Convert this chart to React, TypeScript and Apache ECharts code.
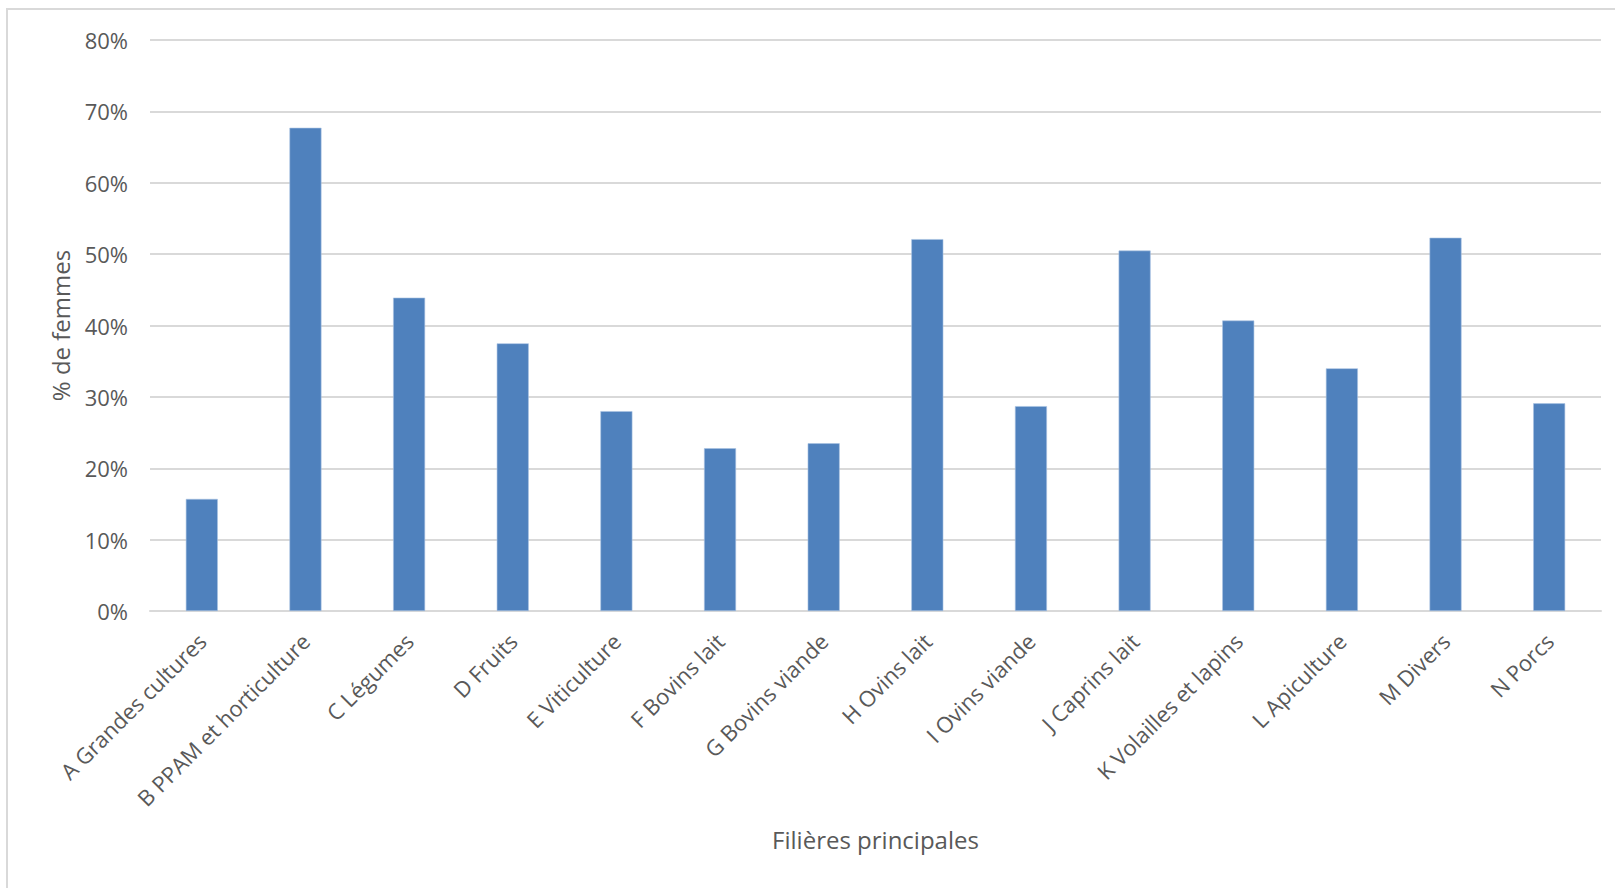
import React, { useEffect, useRef } from "react";
import * as echarts from "echarts";

const categories: string[] = [
  "A Grandes cultures",
  "B PPAM et horticulture",
  "C Légumes",
  "D Fruits",
  "E Viticulture",
  "F Bovins lait",
  "G Bovins viande",
  "H Ovins lait",
  "I Ovins viande",
  "J Caprins lait",
  "K Volailles et lapins",
  "L Apiculture",
  "M Divers",
  "N Porcs",
];

const pctFemmes: number[] = [15.7, 67.7, 43.9, 37.5, 28.0, 22.8, 23.5, 52.1, 28.7, 50.5, 40.7, 34.0, 52.3, 29.1];

const yAxisTitle = "% de femmes";
const xAxisTitle = "Filières principales";

const FONT = "'Open Sans', sans-serif";
const TEXT = "#595959";
const GRID = "#D9D9D9";

export default function App() {
  const ref = useRef<HTMLDivElement>(null);
  useEffect(() => {
    if (!ref.current) return;
    const chart = echarts.init(ref.current, undefined, { renderer: "svg" });
    chart.setOption({
      animation: false,
      backgroundColor: "#ffffff",
      graphic: [
        {
          type: "rect",
          shape: { x: 7, y: 9, width: 1700, height: 1000 },
          style: { fill: "none", stroke: GRID, lineWidth: 2 },
          silent: true,
          z: -1,
        },
      ],
      grid: { left: 150, right: 14, top: 40, bottom: 277, containLabel: false },
      xAxis: {
        type: "category",
        data: categories,
        name: xAxisTitle,
        nameLocation: "middle",
        nameGap: 216,
        nameTextStyle: { fontFamily: FONT, fontSize: 24, color: TEXT },
        axisLine: { show: true, lineStyle: { color: GRID, width: 2 } },
        axisTick: { show: false },
        axisLabel: {
          interval: 0,
          rotate: 45,
          margin: 26,
          fontFamily: FONT,
          fontSize: 22,
          color: TEXT,
        },
      },
      yAxis: {
        type: "value",
        min: 0,
        max: 80,
        interval: 10,
        name: yAxisTitle,
        nameLocation: "middle",
        nameGap: 78,
        nameRotate: 90,
        nameTextStyle: { fontFamily: FONT, fontSize: 24, color: TEXT },
        axisLine: { show: false },
        axisTick: { show: false },
        splitLine: { lineStyle: { color: GRID, width: 2 } },
        axisLabel: {
          formatter: "{value}%",
          margin: 22,
          fontFamily: FONT,
          fontSize: 22,
          color: TEXT,
        },
      },
      series: [
        {
          type: "bar",
          data: pctFemmes,
          barWidth: 32,
          itemStyle: { color: "#4F81BD", borderColor: "#A9C2E3", borderWidth: 0.6 },
        },
      ],
    });
    return () => chart.dispose();
  }, []);
  return (
    <div
      ref={ref}
      style={{ position: "fixed", left: 0, top: 0, width: 1615, height: 888, background: "#fff" }}
    />
  );
}
